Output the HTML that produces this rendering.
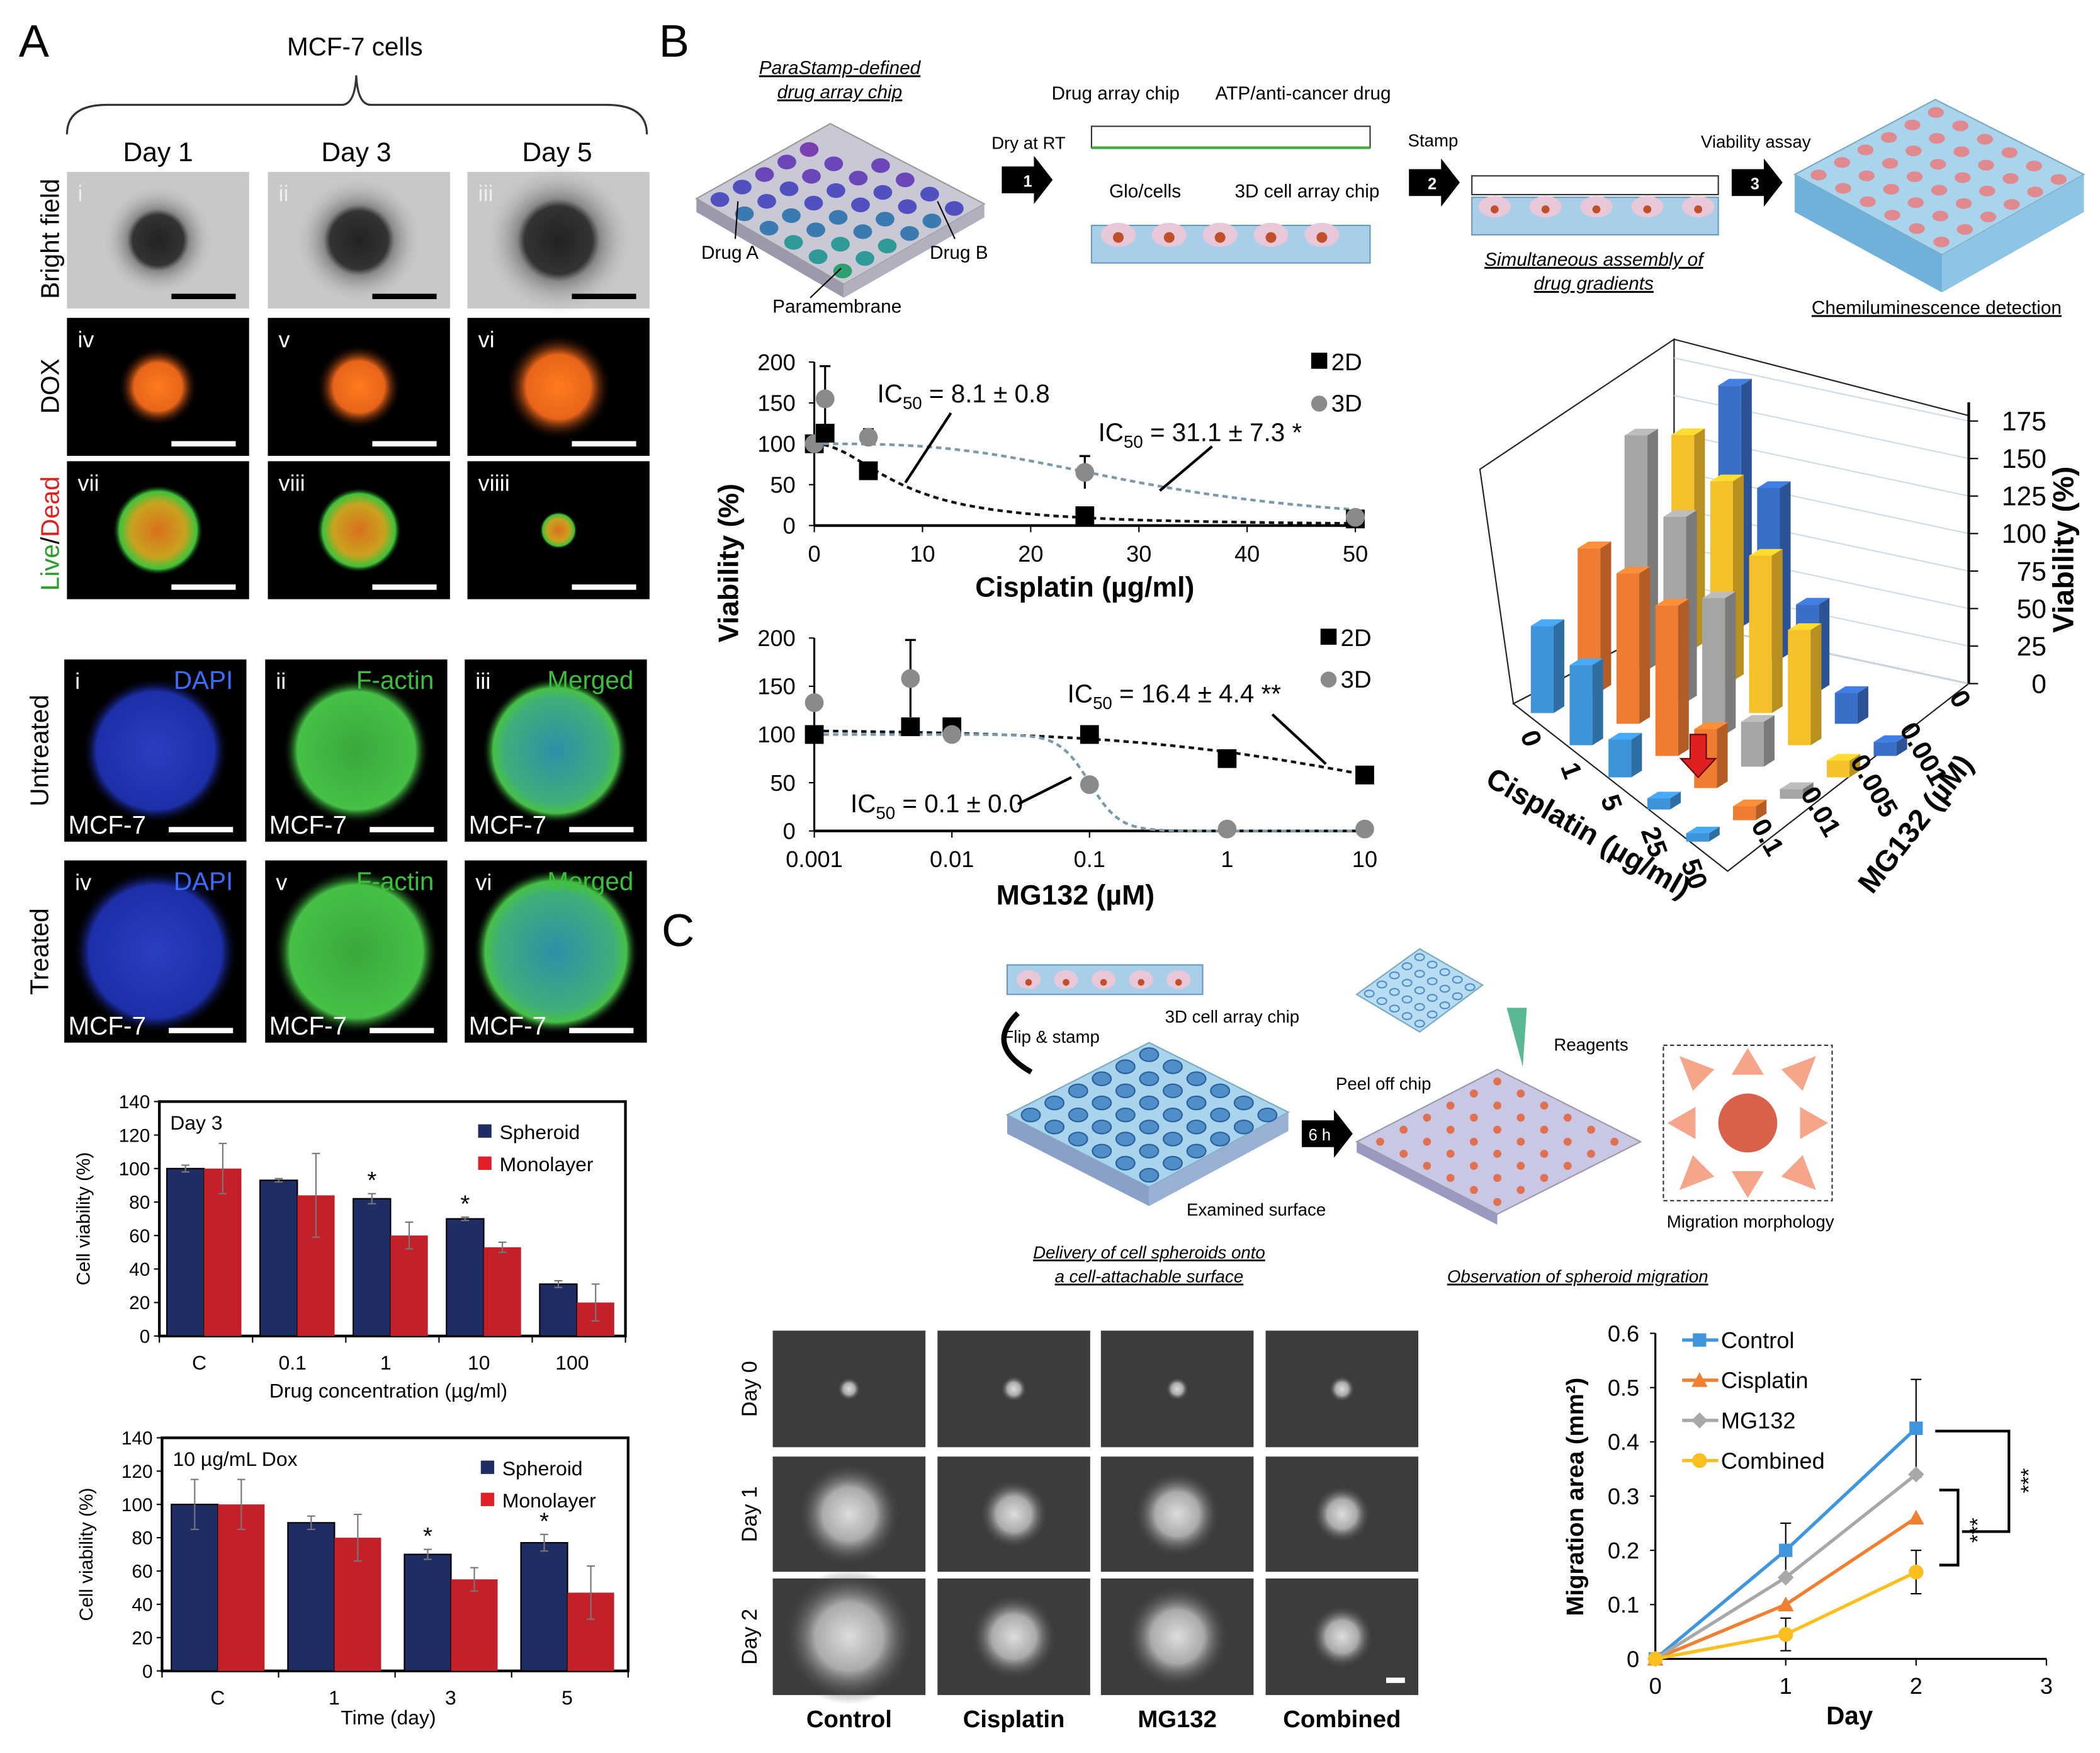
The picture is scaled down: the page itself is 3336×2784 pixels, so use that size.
<!DOCTYPE html>
<html><head><meta charset="utf-8"><style>
html,body{margin:0;padding:0;background:#fff;}
svg{display:block;font-family:"Liberation Sans",Arial,sans-serif;}
</style></head><body>
<svg id="fig" width="3336" height="2784" viewBox="0 0 1568 1308" xmlns="http://www.w3.org/2000/svg">
<defs>
<radialGradient id="bf" cx="50%" cy="50%" r="50%"><stop offset="0" stop-color="#222"/><stop offset="0.45" stop-color="#333"/><stop offset="0.55" stop-color="#888"/><stop offset="1" stop-color="#c8c8c8" stop-opacity="0"/></radialGradient>
<radialGradient id="dox" cx="50%" cy="50%" r="50%"><stop offset="0" stop-color="#ff7a1e"/><stop offset="0.6" stop-color="#e8641a"/><stop offset="1" stop-color="#000" stop-opacity="0"/></radialGradient>
<radialGradient id="ld" cx="50%" cy="50%" r="50%"><stop offset="0" stop-color="#d9701e"/><stop offset="0.6" stop-color="#c9a21e"/><stop offset="0.85" stop-color="#3fc23a"/><stop offset="1" stop-color="#000" stop-opacity="0"/></radialGradient>
<radialGradient id="dapi" cx="50%" cy="50%" r="50%"><stop offset="0" stop-color="#2a3fc0"/><stop offset="0.8" stop-color="#1d2fa8"/><stop offset="1" stop-color="#000" stop-opacity="0"/></radialGradient>
<radialGradient id="fact" cx="50%" cy="50%" r="50%"><stop offset="0" stop-color="#3aa83a"/><stop offset="0.8" stop-color="#46c046"/><stop offset="1" stop-color="#000" stop-opacity="0"/></radialGradient>
<radialGradient id="mrg" cx="50%" cy="50%" r="50%"><stop offset="0" stop-color="#2f8fa8"/><stop offset="0.7" stop-color="#3fae7a"/><stop offset="0.85" stop-color="#47c048"/><stop offset="1" stop-color="#000" stop-opacity="0"/></radialGradient>
<radialGradient id="mic" cx="50%" cy="50%" r="50%"><stop offset="0" stop-color="#ddd"/><stop offset="0.5" stop-color="#aaa"/><stop offset="1" stop-color="#333" stop-opacity="0"/></radialGradient>
</defs>

<text x="14" y="42" font-size="34">A</text>
<text x="492" y="42" font-size="34">B</text>
<text x="494" y="706" font-size="34">C</text>

<text x="265" y="41" font-size="19" text-anchor="middle">MCF-7 cells</text>
<path d="M50,100 Q50,78 80,78 L255,78 Q265,78 266,56 Q267,78 277,78 L453,78 Q483,78 483,100" fill="none" stroke="#333" stroke-width="1.5"/>
<text x="118" y="120" font-size="20" text-anchor="middle">Day 1</text>
<text x="266" y="120" font-size="20" text-anchor="middle">Day 3</text>
<text x="416" y="120" font-size="20" text-anchor="middle">Day 5</text>
<text transform="translate(44,178) rotate(-90)" font-size="19" text-anchor="middle">Bright field</text>
<text transform="translate(44,288) rotate(-90)" font-size="19" text-anchor="middle">DOX</text>
<text transform="translate(44,398) rotate(-90)" font-size="19" text-anchor="middle"><tspan fill="#2a9d2a">Live</tspan>/<tspan fill="#d22">Dead</tspan></text>
<text transform="translate(36,560) rotate(-90)" font-size="19" text-anchor="middle">Untreated</text>
<text transform="translate(36,710) rotate(-90)" font-size="19" text-anchor="middle">Treated</text>
<g id="micrographsA"></g>

<g id="barChart1"></g>
<g id="barChart2"></g>

<g font-size="14">
<text x="627" y="55" text-anchor="middle" font-style="italic" text-decoration="underline">ParaStamp-defined</text>
<text x="627" y="73" text-anchor="middle" font-style="italic" text-decoration="underline">drug array chip</text>
<polygon points="520,148 620,92 735,152 630,212" fill="#c9c9d6" stroke="#999"/>
<polygon points="520,148 630,212 630,222 520,158" fill="#9a9aaa"/>
<polygon points="630,212 735,152 735,162 630,222" fill="#b0b0be"/>
<g id="dots"></g>
<line x1="549" y1="178" x2="551" y2="150" stroke="#000"/>
<line x1="713" y1="178" x2="700" y2="150" stroke="#000"/>
<line x1="605" y1="222" x2="628" y2="200" stroke="#000"/>
<text x="545" y="193" text-anchor="middle">Drug A</text>
<text x="716" y="193" text-anchor="middle">Drug B</text>
<text x="625" y="233" text-anchor="middle">Paramembrane</text>
<text x="768" y="111" text-anchor="middle" font-size="13">Dry at RT</text>
<polygon points="748,124 772,124 772,116 786,134 772,152 772,144 748,144" fill="#000"/><text x="764" y="139" fill="#fff" font-size="12" font-weight="bold">1</text>
<text x="833" y="74" text-anchor="middle">Drug array chip</text>
<text x="973" y="74" text-anchor="middle">ATP/anti-cancer drug</text>
<rect x="815" y="94" width="208" height="16" fill="#fff" stroke="#333"/>
<line x1="815" y1="110" x2="1023" y2="110" stroke="#4a4" stroke-width="2"/>
<text x="855" y="147" text-anchor="middle">Glo/cells</text>
<text x="976" y="147" text-anchor="middle">3D cell array chip</text>
<rect x="815" y="168" width="208" height="28" fill="#a9cfe8" stroke="#6a9ac0"/>
<text x="1070" y="109" text-anchor="middle" font-size="13">Stamp</text>
<polygon points="1052,126 1076,126 1076,118 1090,136 1076,154 1076,146 1052,146" fill="#000"/><text x="1066" y="141" fill="#fff" font-size="12" font-weight="bold">2</text>
<rect x="1099" y="131" width="184" height="14" fill="#fff" stroke="#333"/>
<rect x="1099" y="147" width="184" height="28" fill="#a9cfe8" stroke="#6a9ac0"/>
<text x="1190" y="198" text-anchor="middle" font-style="italic" text-decoration="underline">Simultaneous assembly of</text>
<text x="1190" y="216" text-anchor="middle" font-style="italic" text-decoration="underline">drug gradients</text>
<text x="1311" y="110" text-anchor="middle" font-size="13">Viability assay</text>
<polygon points="1293,126 1317,126 1317,118 1331,136 1317,154 1317,146 1293,146" fill="#000"/><text x="1307" y="141" fill="#fff" font-size="12" font-weight="bold">3</text>
<polygon points="1340,130 1445,74 1556,130 1450,190" fill="#a8d4ee" stroke="#7ab"/>
<polygon points="1340,130 1450,190 1450,218 1340,158" fill="#6fb1d8"/>
<polygon points="1450,190 1556,130 1556,158 1450,218" fill="#8ec4e4"/>
<g id="wells"></g>
<text x="1446" y="234" text-anchor="middle" text-decoration="underline">Chemiluminescence detection</text>
</g>

<text transform="translate(551,420) rotate(-90)" font-size="21" font-weight="bold" text-anchor="middle">Viability (%)</text>
<g id="cisChart"></g>
<g id="mgChart"></g>
<g id="chart3d"></g>

<g font-size="13">
<rect x="752" y="720" width="146" height="22" fill="#a9cfe8" stroke="#6a9ac0"/>
<path d="M760,756 Q735,780 770,800" fill="none" stroke="#000" stroke-width="4"/>
<text x="785" y="778" text-anchor="middle">Flip &amp; stamp</text>
<text x="920" y="763" text-anchor="middle">3D cell array chip</text>
<polygon points="752,832 858,778 962,830 858,886" fill="#a8d4ee" stroke="#7ab"/>
<polygon points="752,832 858,886 858,900 752,846" fill="#8aa0c8"/>
<polygon points="858,886 962,830 962,844 858,900" fill="#9ab0d4"/>
<g id="cwells"></g>
<text x="938" y="907" text-anchor="middle">Examined surface</text>
<polygon points="972,836 996,836 996,828 1010,846 996,864 996,856 972,856" fill="#000"/><text x="977" y="851" fill="#fff" font-size="12">6 h</text>
<polygon points="1013,742 1060,708 1107,735 1060,770" fill="#b8dcf2" stroke="#7ab"/>
<g id="peelwells"></g>
<text x="1033" y="813" text-anchor="middle">Peel off chip</text>
<polygon points="1125,752 1140,752 1137,796" fill="#5bb894"/>
<text x="1188" y="784" text-anchor="middle">Reagents</text>
<polygon points="1013,852 1118,798 1225,852 1118,906" fill="#c8c8e4" stroke="#99a"/>
<polygon points="1013,852 1118,906 1118,914 1013,860" fill="#9a9ac0"/>
<g id="surfdots"></g>
<rect x="1242" y="780" width="126" height="116" fill="#fff" stroke="#333" stroke-dasharray="3,2"/>
<g fill="#f4a58a"><polygon points="1305,782 1293,802 1317,802"/><polygon points="1305,894 1293,874 1317,874"/><polygon points="1245,838 1266,826 1266,850"/><polygon points="1365,838 1344,826 1344,850"/><polygon points="1254,788 1280,798 1264,814"/><polygon points="1356,788 1330,798 1346,814"/><polygon points="1254,888 1280,878 1264,862"/><polygon points="1356,888 1330,878 1346,862"/></g>
<circle cx="1305" cy="838" r="22" fill="#d9604a"/>
<text x="1307" y="916" text-anchor="middle">Migration morphology</text>
<text x="858" y="939" text-anchor="middle" font-style="italic" text-decoration="underline">Delivery of cell spheroids onto</text>
<text x="858" y="957" text-anchor="middle" font-style="italic" text-decoration="underline">a cell-attachable surface</text>
<text x="1178" y="957" text-anchor="middle" font-style="italic" text-decoration="underline">Observation of spheroid migration</text>
</g>
<g id="micrographsC"></g>
<g id="lineChart"></g>
</svg>

<script>
var NS='http://www.w3.org/2000/svg';
function mk(tag,attrs,parent){var e=document.createElementNS(NS,tag);for(var k in attrs)e.setAttribute(k,attrs[k]);parent.appendChild(e);return e;}
function txt(s,attrs,parent){var e=mk('text',attrs,parent);e.textContent=s;return e;}

var bar1Categories=['C','0.1','1','10','100'];
var bar1Spheroid=[100,93,82,70,31];
var bar1SpheroidErr=[2,1,3,1,2];
var bar1Monolayer=[100,84,60,53,20];
var bar1MonolayerErr=[15,25,8,3,11];
var bar1Star=[false,false,true,true,false];
var bar2Categories=['C','1','3','5'];
var bar2Spheroid=[100,89,70,77];
var bar2SpheroidErr=[15,4,3,5];
var bar2Monolayer=[100,80,55,47];
var bar2MonolayerErr=[15,14,7,16];
var bar2Star=[false,false,true,true];
var barTicks=[0,20,40,60,80,100,120,140];

function barChart(g,cfg){
  var x0=cfg.x0,x1=cfg.x1,yT=cfg.yT,yB=cfg.yB,n=cfg.cats.length;
  function ys(v){return yB-(v/140)*(yB-yT);}
  var gw=(x1-x0)/n;
  var frame=mk('rect',{x:x0,y:yT,width:x1-x0,height:yB-yT,fill:'none',stroke:'#000','stroke-width':2},g);
  
  
  barTicks.forEach(function(t){
    mk('line',{x1:x0-4,x2:x0,y1:ys(t),y2:ys(t),stroke:'#000'},g);
    var l=txt(String(t),{x:x0-7,y:ys(t)+5,'font-size':14,'text-anchor':'end'},g);
    
    
  });
  for(var i=0;i<n;i++){
    var gx=x0+i*gw, bw=gw*0.4, bx=gx+gw*0.08;
    mk('line',{x1:gx,x2:gx,y1:yB,y2:yB+5,stroke:'#000'},g);
    var b1=mk('rect',{x:bx,y:ys(cfg.s[i]),width:bw,height:yB-ys(cfg.s[i]),fill:'#1f2d64',stroke:'#000','stroke-width':1},g);
    
    
    var b2=mk('rect',{x:bx+bw,y:ys(cfg.m[i]),width:bw,height:yB-ys(cfg.m[i]),fill:'#c4202a'},g);
    
    
    [[bx+bw/2,cfg.s[i],cfg.se[i]],[bx+bw*1.5,cfg.m[i],cfg.me[i]]].forEach(function(e){
      mk('line',{x1:e[0],x2:e[0],y1:ys(e[1]+e[2]),y2:ys(e[1]-e[2]),stroke:'#777'},g);
      mk('line',{x1:e[0]-3,x2:e[0]+3,y1:ys(e[1]+e[2]),y2:ys(e[1]+e[2]),stroke:'#777'},g);
      mk('line',{x1:e[0]-3,x2:e[0]+3,y1:ys(e[1]-e[2]),y2:ys(e[1]-e[2]),stroke:'#777'},g);
    });
    if(cfg.star[i]){var st=txt('*',{x:bx+bw/2,y:ys(cfg.s[i]+cfg.se[i])-4,'font-size':18,'text-anchor':'middle'},g);
      
      }
    var cl=txt(cfg.cats[i],{x:gx+gw/2+cfg.lo,y:yB+25,'font-size':15,'text-anchor':'middle'},g);
    
    
  }
  mk('line',{x1:x1,x2:x1,y1:yB,y2:yB+5,stroke:'#000'},g);
  var yt=txt('Cell viability (%)',{transform:'translate('+(x0-52)+','+((yT+yB)/2)+') rotate(-90)','font-size':14,'text-anchor':'middle'},g);
  
  
  var xt=txt(cfg.xt,{x:cfg.xtx,y:cfg.xty,'font-size':15,'text-anchor':'middle'},g);
  
  
  var tt=txt(cfg.title,{x:x0+8,y:yT+21,'font-size':15},g);
  
  
  var lg=mk('g',{},g);
  
  
  mk('rect',{x:x1-110,y:yT+17,width:10,height:10,fill:'#1f2d64'},lg);
  txt('Spheroid',{x:x1-94,y:yT+28,'font-size':15},lg);
  mk('rect',{x:x1-110,y:yT+41,width:10,height:10,fill:'#e02028'},lg);
  txt('Monolayer',{x:x1-94,y:yT+52,'font-size':15},lg);
}
barChart(document.getElementById('barChart1'),{x0:119,x1:467,yT:822,yB:997,cats:bar1Categories,s:bar1Spheroid,se:bar1SpheroidErr,m:bar1Monolayer,me:bar1MonolayerErr,star:bar1Star,lo:-5,xt:'Drug concentration (µg/ml)',xtx:290,xty:1043,title:'Day 3'});
barChart(document.getElementById('barChart2'),{x0:121,x1:469,yT:1073,yB:1247,cats:bar2Categories,s:bar2Spheroid,se:bar2SpheroidErr,m:bar2Monolayer,me:bar2MonolayerErr,star:bar2Star,lo:-2,xt:'Time (day)',xtx:290,xty:1287,title:'10 µg/mL Dox'});

(function(){
  var g=document.getElementById('micrographsA');
  var cols=[50,200,349];
  var rows=[{y:128,h:102,bg:'#c8c8c8',fill:'url(#bf)',r:[42,48,56],lab:['i','ii','iii'],name:'bright-field-image',bar:'#000'},
            {y:237,h:103,bg:'#000',fill:'url(#dox)',r:[30,32,40],lab:['iv','v','vi'],name:'dox-image',bar:'#fff'},
            {y:344,h:103,bg:'#000',fill:'url(#ld)',r:[34,32,14],lab:['vii','viii','viiii'],name:'live-dead-image',bar:'#fff'},
            {y:492,h:136,bg:'#000',fill:null,r:[55,55,55],lab:['i','ii','iii'],name:'untreated-image',bar:'#fff'},
            {y:642,h:136,bg:'#000',fill:null,r:[62,62,62],lab:['iv','v','vi'],name:'treated-image',bar:'#fff'}];
  var fl=['url(#dapi)','url(#fact)','url(#mrg)'],fn=['DAPI','F-actin','Merged'],fc=['#3a6cff','#3ac03a','#3ac03a'];
  rows.forEach(function(r,ri){
    cols.forEach(function(cx,ci){
      var x=ri>=3?cx-2:cx, ww=136;
      var im=mk('g',{},g);
      
      
      mk('rect',{x:x,y:r.y,width:ww,height:r.h,fill:r.bg},im);
      mk('circle',{cx:x+ww/2,cy:r.y+r.h/2,r:r.r[ci],fill:r.fill||fl[ci]},im);
      txt(r.lab[ci],{x:x+8,y:r.y+22,'font-size':17,fill:ri===0?'#eee':'#fff'},im);
      if(ri>=3){txt(fn[ci],{x:x+ww-10,y:r.y+22,'font-size':19,fill:fc[ci],'text-anchor':'end'},im);
        txt('MCF-7',{x:x+3,y:r.y+r.h-6,'font-size':19,fill:'#fff'},im);}
      mk('rect',{x:x+ww-58,y:r.y+r.h-11,width:48,height:4,fill:r.bar},im);
    });
  });
})();

(function(){
  function grid(parent,L,A,B,n,fn){
    for(var i=0;i<n;i++)for(var j=0;j<n;j++){
      var x=L[0]+(i+0.5)/n*A[0]+(j+0.5)/n*B[0], y=L[1]+(i+0.5)/n*A[1]+(j+0.5)/n*B[1];
      fn(parent,x,y,i,j);
    }
  }
  var cs=['#7a3fb0','#6a46b8','#5050c0','#3a7ab0','#2f9a98','#2ea070'];
  grid(document.getElementById('dots'),[520,148],[100,-56],[110,64],6,function(p,x,y,i,j){
    if(i===5&&j<2)return;
    mk('ellipse',{cx:x,cy:y,rx:7,ry:5.5,fill:cs[Math.min(5,Math.floor((j+ (5-i))/2)) ]||cs[0]},p);
  });
  grid(document.getElementById('wells'),[1340,130],[105,-56],[110,60],6,function(p,x,y){
    mk('ellipse',{cx:x,cy:y,rx:6,ry:4,fill:'#e08a90'},p);
  });
  var cw=document.getElementById('cwells');
  grid(cw,[752,832],[106,-54],[106,54],6,function(p,x,y){
    mk('ellipse',{cx:x,cy:y,rx:7,ry:5,fill:'#4f8ec8',stroke:'#2a5f9a'},p);
  });
  grid(document.getElementById('surfdots'),[1013,852],[105,-54],[105,54],6,function(p,x,y){
    mk('circle',{cx:x,cy:y,r:3,fill:'#e07050'},p);
  });
  grid(document.getElementById('peelwells'),[1013,742],[47,-34],[47,28],5,function(p,x,y){
    mk('ellipse',{cx:x,cy:y,rx:3.5,ry:2.5,fill:'none',stroke:'#4f8ec8'},p);
  });
  for(var k=0;k<5;k++){mk('ellipse',{cx:768+k*28,cy:731,rx:9,ry:7,fill:'#e8c8d8'},cw);mk('circle',{cx:768+k*28,cy:733,r:2.5,fill:'#c0502a'},cw);
    mk('ellipse',{cx:835+k*38,cy:175,rx:13,ry:9,fill:'#e8c8d8'},cw);mk('circle',{cx:835+k*38,cy:177,r:4,fill:'#c0502a'},cw);
    mk('ellipse',{cx:1116+k*38,cy:154,rx:12,ry:8,fill:'#e8c8d8'},cw);mk('circle',{cx:1116+k*38,cy:156,r:3,fill:'#c0502a'},cw);}
})();

var cisDose=[0,1,5,25,50];
var cis2D=[100,113,67,12,8];
var cis3D=[100,155,108,65,10];
var cis3DErr=[0,40,10,20,0];
var cisXTicks=[0,10,20,30,40,50];
var bYTicks=[0,50,100,150,200];
var cisIC2D=8.1, cisIC3D=31.1;

var mgDose=[0.001,0.005,0.01,0.1,1,10];
var mg2D=[100,108,108,100,75,58];
var mg3D=[133,158,100,48,2,2];
var mg3DErr=[0,40,5,0,0,0];
var mgXTicks=[0.001,0.01,0.1,1,10];
var mgXTickLabels=['0.001','0.01','0.1','1','10'];
var mgIC2D=16.4, mgIC3D=0.1;

function dotChart(g,cfg){
  var x0=cfg.x0,x1=cfg.x1,yT=cfg.yT,yB=cfg.yB;
  function ys(v){return yB-(v/200)*(yB-yT);}
  var xs=cfg.xs;
  mk('line',{x1:x0,x2:x0,y1:yT,y2:yB,stroke:'#000','stroke-width':1.5},g);
  mk('line',{x1:x0,x2:x1,y1:yB,y2:yB,stroke:'#000','stroke-width':2},g);
  bYTicks.forEach(function(t){
    mk('line',{x1:x0-4,x2:x0,y1:ys(t),y2:ys(t),stroke:'#000'},g);
    var l=txt(String(t),{x:x0-14,y:ys(t)+6,'font-size':17,'text-anchor':'end'},g);
    
    
  });
  cfg.xt.forEach(function(t,i){
    mk('line',{x1:xs(t),x2:xs(t),y1:yB,y2:yB+5,stroke:'#000'},g);
    var l=txt(cfg.xtl[i],{x:xs(t),y:yB+27,'font-size':17,'text-anchor':'middle'},g);
    
    
  });
  function path(ic,hill,scale){var d='';for(var k=0;k<=120;k++){var v=cfg.lin?cfg.xmin+(cfg.xmax-cfg.xmin)*k/120:Math.pow(10,Math.log10(cfg.xmin)+(Math.log10(cfg.xmax)-Math.log10(cfg.xmin))*k/120);
    var y=scale/(1+Math.pow(v/ic,hill));d+=(k?'L':'M')+xs(v).toFixed(1)+','+ys(y).toFixed(1);}return d;}
  var c2=mk('path',{d:path(cfg.ic2,cfg.h2,cfg.top2),fill:'none',stroke:'#111','stroke-width':2,'stroke-dasharray':'4,3'},g);
  
  
  var c3=mk('path',{d:path(cfg.ic3,cfg.h3,100),fill:'none',stroke:'#7a9aa8','stroke-width':2,'stroke-dasharray':'4,3'},g);
  
  
  cfg.d.forEach(function(x,i){
    var e=cfg.e3[i];
    if(e){mk('line',{x1:xs(x),x2:xs(x),y1:ys(cfg.v3[i]+e),y2:ys(cfg.v3[i]-e),stroke:'#000','stroke-width':1.5},g);
      mk('line',{x1:xs(x)-4,x2:xs(x)+4,y1:ys(cfg.v3[i]+e),y2:ys(cfg.v3[i]+e),stroke:'#000','stroke-width':1.5},g);}
    var s=mk('rect',{x:xs(x)-7,y:ys(cfg.v2[i])-7,width:14,height:14,fill:'#000'},g);
    
    
    var c=mk('circle',{cx:xs(x),cy:ys(cfg.v3[i]),r:7,fill:'#8a8a8a'},g);
    
    
  });
  var lg=mk('g',{},g);
  
  
  mk('rect',{x:x1-33,y:yT-7,width:12,height:12,fill:'#000'},lg);
  txt('2D',{x:x1-18,y:yT+6,'font-size':18},lg);
  mk('circle',{cx:x1-27,cy:yT+31,r:6,fill:'#8a8a8a'},lg);
  txt('3D',{x:x1-18,y:yT+37,'font-size':18},lg);
  var xt=txt(cfg.title,{x:cfg.ttx,y:cfg.tty,'font-size':21,'font-weight':'bold','text-anchor':'middle'},g);
  
  
  cfg.ann.forEach(function(a){
    var t=mk('text',{x:a.x,y:a.y,'font-size':19},g);
    
    
    var t1=mk('tspan',{},t);t1.textContent='IC';
    var t2=mk('tspan',{'font-size':13,dy:5},t);t2.textContent='50';
    var t3=mk('tspan',{dy:-5},t);t3.textContent=' = '+a.s;
    mk('line',{x1:a.ax1,y1:a.ay1,x2:a.ax2,y2:a.ay2,stroke:'#000','stroke-width':2},g);
  });
}
(function(){
  var x0=608,x1=1012;
  dotChart(document.getElementById('cisChart'),{x0:x0,x1:x1,yT:270,yB:392,xs:function(v){return x0+v/50*(x1-x0);},lin:true,xmin:0,xmax:50,
    d:cisDose,v2:cis2D,v3:cis3D,e3:cis3DErr,xt:cisXTicks,xtl:cisXTicks.map(String),ic2:cisIC2D,h2:2,top2:100,ic3:cisIC3D,h3:3,
    title:'Cisplatin (µg/ml)',ttx:810,tty:445,
    ann:[{x:655,y:300,s:'8.1 ± 0.8',ax1:710,ay1:308,ax2:676,ay2:360},{x:820,y:329,s:'31.1 ± 7.3 *',ax1:905,ay1:333,ax2:866,ay2:366}]});
  var x0b=608,x1b=1019;
  dotChart(document.getElementById('mgChart'),{x0:x0b,x1:x1b,yT:476,yB:620,xs:function(v){return x0b+(Math.log10(v)+3)/4*(x1b-x0b);},lin:false,xmin:0.001,xmax:10,
    d:mgDose,v2:mg2D,v3:mg3D,e3:mg3DErr,xt:mgXTicks,xtl:mgXTickLabels,ic2:mgIC2D,h2:0.45,top2:105,ic3:mgIC3D,h3:4,
    title:'MG132 (µM)',ttx:803,tty:675,
    ann:[{x:797,y:524,s:'16.4 ± 4.4 **',ax1:950,ay1:533,ax2:990,ay2:570},{x:635,y:606,s:'0.1 ± 0.0',ax1:760,ay1:600,ax2:800,ay2:580}]});
})();

var cisLevels=['0','1','5','25','50'];
var mgLevels=['0','0.001','0.005','0.01','0.1'];
var via3D=[[60,55,25,6,4],[100,105,105,40,8],[165,130,95,30,5],[150,140,110,80,10],[170,120,60,20,8]];
var zTicks=[0,25,50,75,100,125,150,175];
var mgColors=['#3d94d8','#ef7d31','#a5a5a5','#f5c12a','#3a6fc8'];
(function(){
  var g=document.getElementById('chart3d');
  function P(i,j,z){return [1143+i*29+j*35, 530+i*24-j*16-z*1.05];}
  mk('polygon',{points:'1105,350 1250,253 1250,463 1130,525',fill:'none',stroke:'#222'},g);
  mk('polygon',{points:'1250,253 1470,310 1470,510 1250,463',fill:'none',stroke:'#222'},g);
  mk('polygon',{points:'1130,525 1250,463 1470,510 1290,650',fill:'none',stroke:'#222'},g);
  zTicks.forEach(function(t){
    var y=510-t*1.12;
    mk('line',{x1:1250,y1:463-t*1.12,x2:1470,y2:y,stroke:'#cfdbe8'},g);
    mk('line',{x1:1470,x2:1477,y1:y,y2:y,stroke:'#000'},g);
    var l=txt(String(t),{x:1528,y:y+7,'font-size':20,'text-anchor':'end'},g);
    
    
  });
  mk('line',{x1:1470,x2:1470,y1:300,y2:510,stroke:'#000','stroke-width':2},g);
  var zt=txt('Viability (%)',{transform:'translate(1548,410) rotate(-90)','font-size':22,'font-weight':'bold','text-anchor':'middle'},g);
  
  
  function shade(c,f){var n=parseInt(c.slice(1),16),r=(n>>16)*f,gg=((n>>8)&255)*f,b=(n&255)*f;return 'rgb('+Math.min(255,r|0)+','+Math.min(255,gg|0)+','+Math.min(255,b|0)+')';}
  for(var j=4;j>=0;j--)for(var i=0;i<5;i++){
    var v=via3D[j][i],c=mgColors[j];
    var b=P(i,j,0),t=P(i,j,v),w=17,d=8;
    var bar=mk('g',{},g);
    
    
    mk('rect',{x:t[0],y:t[1],width:w,height:b[1]-t[1]+2,fill:c},bar);
    mk('polygon',{points:(t[0]+w)+','+t[1]+' '+(t[0]+w+d)+','+(t[1]-5)+' '+(t[0]+w+d)+','+(b[1]-3)+' '+(t[0]+w)+','+(b[1]+2),fill:shade(c,0.75)},bar);
    mk('polygon',{points:t[0]+','+t[1]+' '+(t[0]+d)+','+(t[1]-5)+' '+(t[0]+w+d)+','+(t[1]-5)+' '+(t[0]+w)+','+t[1],fill:shade(c,1.15)},bar);
  }
  mk('polygon',{points:'1262,548 1274,548 1274,566 1281,566 1268,580 1255,566 1262,566',fill:'#e02020',stroke:'#600'},g);
  cisLevels.forEach(function(s,i){
    var l=txt(s,{transform:'translate('+(1135+i*30)+','+(548+i*24)+') rotate(70)','font-size':20,'font-weight':'bold'},g);
    
    
  });
  mgLevels.forEach(function(s,j){
    var l=txt(s,{transform:'translate('+(1455-j*37)+','+(520+j*24)+') rotate(60)','font-size':20,'font-weight':'bold'},g);
    
    
  });
  var ct=txt('Cisplatin (µg/ml)',{transform:'translate(1108,585) rotate(30)','font-size':22,'font-weight':'bold'},g);
  
  
  var mt=txt('MG132 (µM)',{transform:'translate(1398,668) rotate(-52)','font-size':22,'font-weight':'bold'},g);
  
  
})();

(function(){
  var g=document.getElementById('micrographsC');
  var xs=[577,700,822,945],ys=[993,1087,1178],h=[87,86,87];
  var sz=[[8,9,8,9],[36,24,30,20],[46,30,36,22]];
  var names=['Control','Cisplatin','MG132','Combined'];
  ys.forEach(function(y,r){
    xs.forEach(function(x,c){
      var im=mk('g',{},g);
      
      
      mk('rect',{x:x,y:y,width:114,height:h[r],fill:'#3c3c3c'},im);
      mk('circle',{cx:x+57,cy:y+h[r]/2,r:sz[r][c]*1.1,fill:'url(#mic)'},im);
    });
    var l=txt(['Day 0','Day 1','Day 2'][r],{transform:'translate(565,'+(y+h[r]/2)+') rotate(-90)','font-size':16,'text-anchor':'middle'},g);
    
    
  });
  mk('rect',{x:1035,y:1252,width:14,height:4,fill:'#fff'},g);
  names.forEach(function(n,c){
    var l=txt(n,{x:xs[c]+57,y:1289,'font-size':18,'font-weight':'bold','text-anchor':'middle'},g);
    
    
  });
})();

var lineDays=[0,1,2];
var ctrlArea=[0,0.2,0.425];
var cisArea=[0,0.1,0.26];
var mgArea=[0,0.15,0.34];
var combArea=[0,0.045,0.16];
var ctrlErr=[0,0.05,0.09];
var combErr=[0,0.03,0.04];
var lineXTicks=[0,1,2,3];
var lineYTicks=[0,0.1,0.2,0.3,0.4,0.5,0.6];
var lineSeriesNames=['Control','Cisplatin','MG132','Combined'];
(function(){
  var g=document.getElementById('lineChart');
  var x0=1236,x1=1528,yT=995,yB=1238;
  function xs(v){return x0+v/3*(x1-x0);}
  function ys(v){return yB-v/0.6*(yB-yT);}
  mk('line',{x1:x0,x2:x0,y1:yT,y2:yB,stroke:'#000','stroke-width':1.5},g);
  mk('line',{x1:x0,x2:x1,y1:yB,y2:yB,stroke:'#000','stroke-width':1.5},g);
  lineYTicks.forEach(function(t){
    mk('line',{x1:x0-4,x2:x0,y1:ys(t),y2:ys(t),stroke:'#000'},g);
    var l=txt(t===0?'0':t.toFixed(1),{x:x0-12,y:ys(t)+6,'font-size':17,'text-anchor':'end'},g);
    
    
  });
  lineXTicks.forEach(function(t){
    mk('line',{x1:xs(t),x2:xs(t),y1:yB,y2:yB+5,stroke:'#000'},g);
    var l=txt(String(t),{x:xs(t),y:yB+26,'font-size':17,'text-anchor':'middle'},g);
    
    
  });
  var xt=txt('Day',{x:1381,y:1287,'font-size':19,'font-weight':'bold','text-anchor':'middle'},g);
  
  
  var yt=txt('Migration area (mm²)',{transform:'translate(1182,1117) rotate(-90)','font-size':18,'font-weight':'bold','text-anchor':'middle'},g);
  
  
  var series=[ctrlArea,cisArea,mgArea,combArea],cols=['#3f96dc','#f07f32','#a8a8a8','#fbbf20'],mks=['sq','tri','dia','circ'];
  function marker(p,x,y,t,c){
    if(t==='sq')return mk('rect',{x:x-5,y:y-5,width:10,height:10,fill:c},p);
    if(t==='tri')return mk('polygon',{points:x+','+(y-6)+' '+(x+6)+','+(y+5)+' '+(x-6)+','+(y+5),fill:c},p);
    if(t==='dia')return mk('polygon',{points:x+','+(y-6)+' '+(x+6)+','+y+' '+x+','+(y+6)+' '+(x-6)+','+y,fill:c},p);
    return mk('circle',{cx:x,cy:y,r:5.5,fill:c},p);
  }
  [[ctrlArea,ctrlErr],[combArea,combErr]].forEach(function(pe){
    pe[0].forEach(function(v,i){var e=pe[1][i];if(!e)return;
      mk('line',{x1:xs(lineDays[i]),x2:xs(lineDays[i]),y1:ys(v+e),y2:ys(v-e),stroke:'#000'},g);
      mk('line',{x1:xs(lineDays[i])-4,x2:xs(lineDays[i])+4,y1:ys(v+e),y2:ys(v+e),stroke:'#000'},g);
      mk('line',{x1:xs(lineDays[i])-4,x2:xs(lineDays[i])+4,y1:ys(v-e),y2:ys(v-e),stroke:'#000'},g);});
  });
  series.forEach(function(s,k){
    var d=s.map(function(v,i){return (i?'L':'M')+xs(lineDays[i])+','+ys(v);}).join('');
    var ln=mk('path',{d:d,fill:'none',stroke:cols[k],'stroke-width':2.5},g);
    
    
    s.forEach(function(v,i){
      var m=marker(g,xs(lineDays[i]),ys(v),mks[k],cols[k]);
      
      
    });
    var le=mk('g',{},g);
    
    
    var ly=1000+k*30;
    mk('line',{x1:1256,x2:1283,y1:ly,y2:ly,stroke:cols[k],'stroke-width':2.5},le);
    marker(le,1269,ly,mks[k],cols[k]);
    txt(lineSeriesNames[k],{x:1285,y:ly+6,'font-size':17},le);
  });
  mk('path',{d:'M1445,1068 L1500,1068 L1500,1143 L1465,1143',fill:'none',stroke:'#000','stroke-width':2},g);
  mk('path',{d:'M1448,1112 L1462,1112 L1462,1168 L1448,1168',fill:'none',stroke:'#000','stroke-width':2},g);
  txt('***',{transform:'translate(1520,1105) rotate(-90)','font-size':16,'text-anchor':'middle'},g);
  txt('***',{transform:'translate(1482,1142) rotate(-90)','font-size':16,'text-anchor':'middle'},g);
})();
</script>
</body></html>
